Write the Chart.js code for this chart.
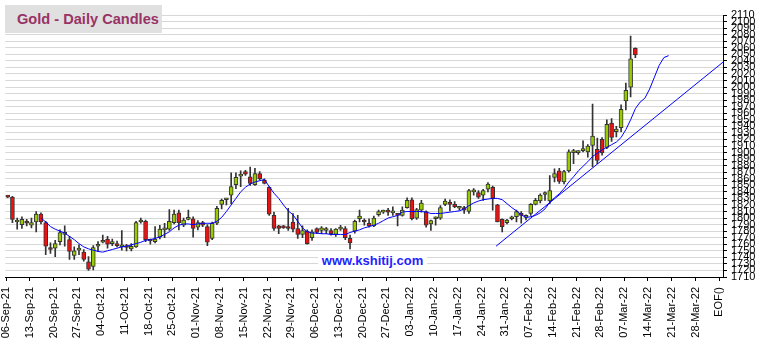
<!DOCTYPE html>
<html>
<head>
<meta charset="utf-8">
<script src="https://cdn.jsdelivr.net/npm/chart.js@4"></script>
<style>
  body { margin: 0; background: #fff; }
  #wrap { position: relative; width: 763px; height: 344px; }
  #titulo {
    position: absolute; left: 5px; top: 5px; width: 145px; height: 28px; padding-left: 12px;
    background: #e0e0e0; color: #993366; white-space: nowrap;
    font: bold 14.6px "Liberation Sans", Arial, sans-serif; line-height: 28px;
  }
  #marca {
    position: absolute; left: 318px; top: 252px; width: 109px; height: 18px;
    background: #fff; color: #2222ff; text-align: center;
    font: bold 13px "Liberation Sans", Arial, sans-serif; line-height: 18px;
  }
</style>
</head>
<body>
<div id="wrap">
  <canvas id="grafico" width="763" height="344"></canvas>
  <div id="titulo">Gold - Daily Candles</div>
  <div id="marca">www.kshitij.com</div>
</div>
<script>
// daily candles, index 0 = 06-Sep-21, one step per trading day
const opens = [
  1833, 1832, 1794, 1790, 1795, 1789, 1794, 1806, 1793, 1753,
  1754, 1764, 1775, 1767, 1743, 1751, 1748, 1733, 1726, 1757,
  1763, 1768, 1761, 1761, 1756, 1756, 1753, 1756, 1794, 1795,
  1766, 1764, 1771, 1782, 1783, 1793, 1808, 1789, 1798, 1799,
  1786, 1793, 1787, 1769, 1792, 1821, 1828, 1835, 1851, 1864,
  1871, 1863, 1851, 1868, 1858, 1847, 1804, 1788, 1786, 1786,
  1794, 1784, 1775, 1780, 1770, 1784, 1781, 1781, 1781, 1775,
  1783, 1784, 1769, 1780, 1799, 1797, 1792, 1788, 1805, 1809,
  1810, 1808, 1805, 1804, 1816, 1828, 1800, 1812, 1810, 1791,
  1799, 1800, 1821, 1824, 1821, 1815, 1816, 1810, 1840, 1839,
  1835, 1844, 1847, 1820, 1798, 1793, 1799, 1802, 1805, 1801,
  1807, 1821, 1826, 1836, 1826, 1862, 1872, 1855, 1872, 1900,
  1900, 1903, 1901, 1911, 1905, 1920, 1908, 1945, 1932, 1938,
  1979, 2000, 2059
];
const highs = [
  1834, 1833, 1800, 1802, 1798, 1800, 1810, 1808, 1795, 1762,
  1766, 1782, 1788, 1772, 1756, 1759, 1752, 1741, 1758, 1764,
  1774, 1772, 1768, 1765, 1781, 1760, 1761, 1795, 1800, 1797,
  1768, 1787, 1789, 1792, 1813, 1812, 1812, 1800, 1812, 1802,
  1796, 1795, 1790, 1794, 1818, 1829, 1830, 1869, 1869, 1872,
  1873, 1878, 1876, 1871, 1860, 1848, 1809, 1789, 1789, 1815,
  1807, 1804, 1788, 1782, 1782, 1785, 1787, 1786, 1784, 1784,
  1789, 1787, 1774, 1797, 1812, 1799, 1799, 1803, 1812, 1812,
  1815, 1817, 1807, 1817, 1831, 1831, 1815, 1827, 1811, 1797,
  1802, 1819, 1829, 1828, 1825, 1817, 1818, 1844, 1845, 1842,
  1844, 1854, 1849, 1821, 1799, 1798, 1803, 1812, 1810, 1805,
  1822, 1830, 1837, 1840, 1865, 1875, 1876, 1873, 1904, 1905,
  1903, 1918, 1912, 1974, 1922, 1923, 1950, 1952, 1940, 1973,
  2006, 2078, 2060
];
const lows = [
  1831, 1793, 1783, 1784, 1788, 1785, 1779, 1791, 1744, 1746,
  1741, 1759, 1757, 1737, 1737, 1744, 1734, 1720, 1721, 1749,
  1762, 1754, 1758, 1756, 1751, 1750, 1750, 1755, 1792, 1764,
  1760, 1762, 1768, 1770, 1781, 1791, 1782, 1787, 1797, 1771,
  1782, 1787, 1758, 1767, 1790, 1814, 1820, 1822, 1845, 1848,
  1865, 1850, 1850, 1858, 1852, 1804, 1781, 1776, 1784, 1781,
  1779, 1769, 1770, 1760, 1766, 1776, 1776, 1776, 1774, 1772,
  1781, 1767, 1753, 1777, 1794, 1789, 1786, 1787, 1803, 1807,
  1804, 1804, 1788, 1803, 1815, 1797, 1798, 1809, 1786, 1781,
  1789, 1798, 1819, 1811, 1816, 1812, 1807, 1807, 1835, 1830,
  1827, 1840, 1812, 1794, 1779, 1791, 1797, 1794, 1792, 1797,
  1804, 1820, 1823, 1827, 1822, 1855, 1853, 1852, 1870, 1883,
  1897, 1901, 1893, 1878, 1883, 1896, 1906, 1917, 1924, 1932,
  1965, 1985, 2045
];
const closes = [
  1832, 1798, 1795, 1798, 1792, 1793, 1806, 1794, 1757, 1752,
  1761, 1778, 1776, 1749, 1750, 1751, 1737, 1722, 1755, 1757,
  1766, 1760, 1762, 1758, 1756, 1755, 1757, 1793, 1797, 1767,
  1765, 1768, 1783, 1783, 1795, 1806, 1793, 1797, 1801, 1784,
  1793, 1789, 1763, 1792, 1815, 1827, 1829, 1848, 1862, 1867,
  1867, 1853, 1868, 1860, 1853, 1806, 1784, 1784, 1785, 1784,
  1783, 1775, 1781, 1761, 1779, 1778, 1785, 1782, 1776, 1783,
  1786, 1770, 1762, 1795, 1803, 1794, 1788, 1800, 1810, 1810,
  1809, 1809, 1804, 1812, 1827, 1799, 1813, 1823, 1789, 1796,
  1799, 1816, 1826, 1821, 1817, 1815, 1812, 1842, 1840, 1832,
  1842, 1852, 1830, 1794, 1787, 1797, 1800, 1810, 1804, 1803,
  1821, 1827, 1835, 1836, 1842, 1868, 1856, 1871, 1901, 1901,
  1900, 1906, 1910, 1925, 1888, 1900, 1943, 1923, 1936, 1966,
  1995, 2043, 2049
];

// blue average line, starts at day 7 and runs past the last candle
const mediaInicio = 7;
const mediaValores = [
  1800, 1794, 1787, 1783, 1780, 1777, 1772, 1767, 1761, 1756,
  1753, 1751, 1749, 1748, 1750, 1752, 1754, 1756, 1757, 1759,
  1761, 1763, 1766, 1767, 1769, 1771, 1775, 1779, 1785, 1789,
  1791, 1791, 1790, 1791, 1792, 1792, 1792, 1795, 1801, 1810,
  1820, 1830, 1840, 1847, 1852, 1855, 1857, 1859, 1848, 1838,
  1830, 1820, 1811, 1805, 1795, 1785, 1779, 1777, 1777, 1776,
  1776, 1775, 1775, 1775, 1775, 1778, 1780, 1782, 1785, 1787,
  1789, 1792, 1796, 1800, 1802, 1804, 1809, 1810, 1810, 1810,
  1810, 1809, 1807, 1807, 1807, 1808, 1809, 1810, 1811, 1814,
  1819, 1823, 1826, 1828, 1829, 1830, 1830, 1828, 1822, 1816,
  1811, 1805, 1801, 1802, 1804, 1808, 1814, 1824, 1831, 1837,
  1845, 1855, 1863, 1872, 1879, 1886, 1894, 1899, 1904, 1908,
  1912, 1916, 1923, 1935, 1950, 1967, 1977, 1983, 1997, 2015,
  2033, 2045, 2048
];

// straight support line (day, price)
const tendenciaX = [102.7, 150.6];
const tendenciaY = [1757, 2039];

const etiquetasX = [
  '06-Sep-21', '13-Sep-21', '20-Sep-21', '27-Sep-21', '04-Oct-21', '11-Oct-21',
  '18-Oct-21', '25-Oct-21', '01-Nov-21', '08-Nov-21', '15-Nov-21', '22-Nov-21',
  '29-Nov-21', '06-Dec-21', '13-Dec-21', '20-Dec-21', '27-Dec-21', '03-Jan-22',
  '10-Jan-22', '17-Jan-22', '24-Jan-22', '31-Jan-22', '07-Feb-22', '14-Feb-22',
  '21-Feb-22', '28-Feb-22', '07-Mar-22', '14-Mar-22', '21-Mar-22', '28-Mar-22',
  'EOF()'
];

const verde = '#99cc00';
const rojo = '#ee1111';
const oscuro = '#333333';
const fuente = { family: '"Liberation Sans", Arial, sans-serif', size: 11 };

const mechas = highs.map((h, i) => ({ x: i, y: [lows[i], h] }));
const cuerpos = opens.map((o, i) => ({ x: i, y: [o, closes[i]] }));
const media = mediaValores.map((v, k) => ({ x: mediaInicio + k, y: v }));
const tendencia = tendenciaX.map((x, k) => ({ x, y: tendenciaY[k] }));

const ctx = document.getElementById('grafico');
new Chart(ctx, {
  type: 'bar',
  data: {
    datasets: [
      {
        type: 'line', label: 'Media', data: media,
        borderColor: '#0000ff', borderWidth: 1, pointRadius: 0, tension: 0, order: 0
      },
      {
        type: 'line', label: 'Tendencia', data: tendencia,
        borderColor: '#0000ff', borderWidth: 1, pointRadius: 0, order: 0
      },
      {
        label: 'Cuerpo', data: cuerpos,
        backgroundColor: c => (c.raw && c.raw.y[1] >= c.raw.y[0] ? verde : rojo),
        borderColor: oscuro, borderWidth: 1, borderSkipped: false,
        barThickness: 4, minBarLength: 2, grouped: false, order: 1
      },
      {
        label: 'Mecha', data: mechas,
        backgroundColor: oscuro, barThickness: 1, grouped: false, order: 2
      }
    ]
  },
  options: {
    responsive: false,
    animation: false,
    devicePixelRatio: 1,
    layout: { padding: { left: 5, top: 15, right: 0, bottom: 0 } },
    plugins: { legend: { display: false }, tooltip: { enabled: false } },
    scales: {
      x: {
        type: 'linear', min: -0.5, max: 150.64, bounds: 'data', offset: false,
        grid: { drawOnChartArea: false, offset: false, tickLength: 4, tickColor: '#000' },
        border: { color: '#000' },
        afterBuildTicks: s => { s.ticks = etiquetasX.map((_, k) => ({ value: k * 5 - 0.35 })); },
        ticks: {
          autoSkip: false, maxRotation: 90, minRotation: 90, padding: 6,
          font: fuente, color: '#000',
          callback: (v, i) => etiquetasX[i]
        },
        afterFit: s => { s.height = 67; }
      },
      y: {
        position: 'right', min: 1710, max: 2110,
        grid: { color: '#d8d8d8', tickLength: 3, tickColor: '#000' },
        border: { color: '#000' },
        ticks: {
          stepSize: 10, autoSkip: false, padding: 4,
          font: fuente, color: '#000',
          callback: v => String(v)
        },
        afterFit: s => { s.width = 39; }
      }
    }
  }
});
</script>
</body>
</html>
